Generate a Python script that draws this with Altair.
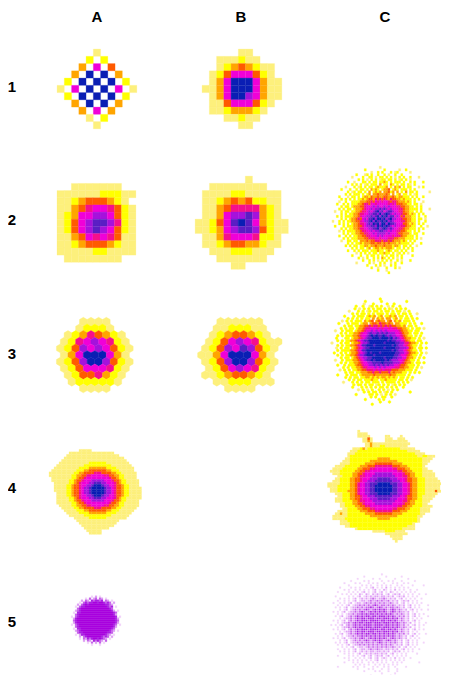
import altair as alt
import pandas as pd

LEVELS = list("123456789abcde")
COLOURS = ["#fdf07c", "#ffff00", "#ffa500", "#ff5a00", "#f5108c", "#f000d8", "#a512dc", "#5a1ec4", "#0a1eb4",
           "#f2d4fa", "#e0a0f5", "#c860ec", "#ab20e4", "#a800e0"]

A1 = [".....1.....", "....2.2....", "...3.6.4...", "..3.9.9.3..", ".2.9.9.9.2.", "1.6.9.9.6.1",
      ".2.9.9.9.2.", "..3.9.9.3..", "...3.6.3...", "....1.2....", ".....1....."]
B1 = [".....11....", "..111211...", "..12343211.", ".124666421.", ".1369996311", "11369996311",
      ".1369976311", ".114666421.", ".11233321..", "...11211...", ".....11...."]
A2 = ["..1111111..", "11111122211", "1123444321.", "11345665421", "12366776421", "12467887521",
      "12467876421", "11346565411", "11234443211", "11111221111", ".11111111.."]
B2 = [".......1.....", "..11111111...", ".11112211111.", ".11234342211.", ".11345555321.", ".11367787321.",
      "1124689863211", "1123678874211", ".11356665221.", ".11234433211.", "..111222111..", "...1111111...", ".....11......"]
A3 = ["...1111...", "...12221", ".12354321", ".125676521", "1247676421", ".136999631",
      "1247997421", ".124666521", ".12445321", "..1222221", "...1111"]
B3 = ["..111111", "..1122211", ".12344321", ".1246765211", "1247687421", "1136999631",
      "1247997421", ".124676521", "112344321", "..11222111", "...1111"]
C2 = [
"......................1.........................",
"...............2........2......1..2.............",
"..................1..2.2...2.12.....1...........",
"...........2...12.2..2..2.1..2..2...............",
".........1....2..22.1.22.2.2.1.2.2..2...1.......",
"............2.2.1.2.2.122.22.2.12.2.1...........",
".......2..1...22.2.22.2232.2.222.2..2.2...2.....",
".........2.2.2.12.222.3.22.32.2.22.21.2.........",
"......1...2.12.2.22.232223.2.323.2.22...1.2.....",
"....2...2..2.22.2.3232.2334.232.222.2.2.........",
".......2.12.22.2.3.2323.33423.3.2.3.22.2.....1..",
"......2.2.222.2.23.33433343.3.23.22.2.12........",
"...2...1.22.2.2332433433443343233222.2.2..2.....",
"....2.2.2.2.2232344354545435443323222.2.2.......",
"...1..2..2222333445465656654554333232.2...1.....",
"..2..2.2.2223345546656666656564443322.22.1......",
"....2.22.23334456667676676766655443322.2.2......",
"...2.2.22.233345667677878767666554332222.2...1..",
".1..2.22.22334556767897867887665543322.2.2......",
"....2.2.2233455667788797898767665443232.2.2.....",
"..2.2.222233456677878979897886764533322.2..2....",
"....2.2.2334546768897998978977665443322.22.1....",
"1..2.2.22334456778979889897876665543322.2..2....",
"...2.2.2.233455678798979979887666443232.2.2.....",
".2...2.22233445677887989898767665543322..2..1...",
"....2.2.2233455667788978987876655433222.2.2.....",
"...1.2.222233455667677887767665544322.2.2.......",
".....2.2.2233445566767777676665443332.22..2.....",
"...2..2.2.2233445566676766665655433222.2........",
".....2.2.22233344555665666555443332222.2.1......",
"....1..22.22.3334344555455454333232.2.2.........",
".......2.2.2232333443443434333232222.2...2......",
"......2.2.22.2233233433343332332.22.2..1........",
".........2.2.22.23.2332323332.22.2.2.2..........",
".......2..2.2.222.222322.232.22.2.2..2..........",
"...........1.2.2.2.22.22322.2.12.2.1............",
".........2...2..2.22.2.2.2.22.2.2....2..........",
"............2.1.2..2.2.32.2.2.1.2...............",
"..............2..2.2.1.2.2.2..2.1...2...........",
"...........1.....2.1..2.2..1.2..2...............",
"................2...2.2.1..2.2..................",
"..................2..1...2...2.1................",
".....................2...1......................",
"..........................2.....................",
]
C3 = [
".....................2......................",
"...............2......2..........2..........",
"..............1...2.....2..2................",
"...........2..2..12.2.2..1.2..2.............",
"..........2.1.2.2.2.22.2.21.2.2.2...........",
"........1...2.2.12.22.2.22.2.22.1.2.........",
".........2.2.22.2.2.222.2.22.2.22.2..1......",
"......2...2.222.2323.23.22323.22.2.2........",
".......2.2.2.2.22.3.323.33.23.2.22.2.2......",
".....1.2.2.222.3234.3433.34.323.222.2.......",
"...2...2.222.233.3443544343.33222.2.2..2....",
"......2.22.2233445455454545443323.22.2......",
"....2.2.22.23345566656566565544332.2.22.1...",
"..1..2.222.2334566767676766666543322.22.....",
"....2.2.223345667877878787776654332.22.2....",
"...2.2.22233456678989889878776654322.2.2....",
"..2...22.2334567889998999897876543322.2.1...",
"...2.2.223345678899999999898877654322.22....",
"1...2.22.23346778999999899998877554332.2.2..",
"...2.2.2233456889998999999989877654322.2....",
"..1.2.22.2345678899999989999887776432.22.2..",
"...2.222233456889999999999989877654322.2....",
".2..2.2.233456789899989999998877654332.2.1..",
"...2.2.2233457789998999999998876654322.2....",
"....2.22.2345677889999989998877664332.2.2...",
"..1..2.222334567889899998987776654322.2.....",
"....2.2.2233456677888898888777654332.22.2...",
"...2..2.22234456677878787877665443222.2.....",
".....2.2.223345566676767666655443322.2.1....",
"....1.2.2.22334455565656555444333222.2......",
"......2.22.2233344544544453433322.2.2.2.....",
"...2...2.222.23333343333334332222.2.........",
"......2.2.22.2233232323323232.22.2.2........",
"........2.2.22.222322.2232222.22.2.1........",
".....1...2.2.2.22.222.2.2222.2.2.2..........",
"..........2.22.2.22.12.2.2.12.2.2...........",
".........2...2.2.2.2.22.2.2.2..2............",
"............1.2.1.2..2.2.1.2.2..............",
"..............2.2.22.2.12.2.......2.........",
"...........2.....22.2.1.2.2.1...............",
".................2.2..22..2.................",
"...............2.....2.2....................",
".....................2...2..................",
"..................2.........................",
]
A4 = [
"............11111",
"........111111111111111111",
".......111111111111111111111",
"......111111111111111111111111",
".....11111111111111111111111111",
"....1111111111112222222111111111",
"...111111111112222222222211111111",
"..11111"+"1111122223333333222211111"+"11",
".111111"+"1111222334444444332221111"+"11",
"1111111"+"1112233444455544443322111"+"111",
"1111111"+"1122334455666665544332211"+"111",
".111111"+"1122344566666666654432211"+"111",
".111111"+"1223445666777776665443221"+"1111",
"..11111"+"1223456667788877666543221"+"1111",
"..11111"+"2234456677899987766544322"+"1111",
"..11111"+"2234456778999998776544322"+"11111",
"..11111"+"2234456778999998776544322"+"11111",
"...1111"+"2234456778999998776544322"+"11111",
"...1111"+"2234456677899987766544322"+"11111",
"...1111"+"1223456667788877666543221"+"11111",
"...1111"+"1223445666777776665443221"+"1111",
"...1111"+"1122344566666666654432211"+"1111",
"....111"+"1122334455666665544332211"+"1111",
".....11"+"1112233444455544443322111"+"111",
"......1"+"1111222334444444332221111"+"11",
"......."+"1111122223333333222211111"+"1",
"......."+".111111222222222221111111",
".........."+"111111222222211111111",
"...........11111111111111111",
"............111111111111111",
".............1111111111111",
"..............1111111111",
"...............111111",
"................11111",
]
C4 = [
".............1",
".............1111",
".............11111......11....1",
"...............1141.....111..111",
"...............1131.....111111111",
"................113111111111111111",
"................11311122111111111",
"...........1112312222222222222111111",
"..........1112222222222222222222211111",
".........1112222222222222222222222221111",
".........1222222222222222222222222222"+"1122111",
"........11222222222223333322222222222"+"221111",
".......111222222223333333333322222222"+"22111",
"......1111222222333344444443333222222"+"2211",
"....111122222233344455555554443332222"+"221",
"...1111222222334445566666665544433222"+"2211",
"..11112222223344556666666666655443322"+"221111",
"...1112222233445666677777776666544332"+"2211111",
".....11222233455666777777777666554332"+"2211111",
"....112222334456667778888877766654433"+"22211111",
"...1112222334456677788888887776654433"+"222111111",
".111112222334566778889999988877665433"+"2221111111",
".111122222334566778899999998877665433"+"222111111",
"..11122222334566778899999998877665433"+"222111111",
"..11122223334566778899999998877665433"+"2221111411",
"....111222334566778889999988877665433"+"22211111",
".....11222334456677788888887776654433"+"2211111",
"....111222334456667778888877766654433"+"221111",
"....111222233455666777777777666554332"+"22111",
"......1122233445666677777776666544332"+"2211",
"......1122223344556666666666655443322"+"221111",
".......112222334445566666665544433222"+"21111",
".....11112222233344455555554443332222"+"21111",
"....113112222222333344444443333222222"+"211",
"...1111112222222223333333333322222222"+"11",
"...1111122222222222223333322222222222"+"1",
"......1112222222222222222222222222222"+"1",
"......111122222222222222222222222221",
"........1122222222222222222222222111",
"............122222222222222222211111",
"...................1111122221111",
"........................111111111",
"..........................11111",
"...........................1111",
"............................1",
]
A5 = [
"..........a.b.a..........",
".......a.c.bc.cb.a.......",
".....b.cb.dcddcd.cb.a....",
"....a.cdcddeedeedcdc.b...",
"...b.cdedeeeeeeeeddcb....",
"..a.cddeeeeeeeeeeedcd.a..",
"...cdeeeeeeeeeeeeeedc....",
"..bcdeeeeeeeeeeeeeeedb.a.",
".a.ddeeeeeeeeeeeeeeeedc..",
"..cdeeeeeeeeeeeeeeeeedb..",
"a.cdeeeeeeeeeeeeeeeeeed.a",
".bdeeeeeeeeeeeeeeeeeeedb.",
".cdeeeeeeeeeeeeeeeeeeedc.",
".bdeeeeeeeeeeeeeeeeeeedb.",
"a.cdeeeeeeeeeeeeeeeeedc.a",
"..cdeeeeeeeeeeeeeeeeedb..",
".a.ddeeeeeeeeeeeeeeedc...",
"..bcdeeeeeeeeeeeeeedcb.a.",
"...cddeeeeeeeeeeeeddc....",
"..a.bddeeeeeeeeeedcb.a...",
"....b.cdeeeeeeedcdc.b....",
"....a.cbdcdeededcb.a.....",
"......b.cb.dcdcb.c.......",
"........a.c.b.c.a........",
"..........a...a..........",
]
C5 = [
".......................a........................",
"...............a.........a......a...............",
"............a......a..a......a.....a............",
".........a.....a.a.....a..a.a...a.....a.........",
"......a....a.a...a.a.a..a...a.a..a.a............",
"........a.....a.a.a..a.a.a.a..a.a....a....a.....",
"....a....a.a.a..a.ab.a.a.b.a.a.a.a.a............",
"......a.a..a.a.a.a.ab.a.ba.a.b.a.a..a..a........",
"...a....a.a.a.ab.a.ab.ab.a.ba.a.a.a.a.a.........",
".....a.a.a.a.ba.ba.babab.ab.abab.a.a.a..a..a....",
"..a.....a.a.ab.abababbabbabab.abab.a.a.a........",
"....a.a.a.ab.abababcbabbcbabab.ab.a.a.a..a......",
"...a..a.a.ab.abbabcbbcbcbbcabab.abab.a.a........",
".a..a.a.ab.abbabcbcbcbcbcbbcbab.ab.a.a.a.a......",
"...a.a.ab.abbcbcbcbcdcbccbcbcbabab.ab.a.a...a...",
"..a.a.ab.abbcbcbccdcbcdcbcbccbcbab.ab.a.a.......",
"....a.ab.abcbcbcdcbcdcdcdcbcdcbcbab.ab.a.a..a...",
".a.a.ab.abbcbcdcbcdcdcdcdcbcdcbcbbab.a.a........",
"...a.a.abbcbccdcdcddcdcdcdcdcbcbcbab.ab.a.a.....",
"..a.ab.abcbcdcdcddcddcdddcdcdcbcbcab.ab.a...a...",
"....a.abbcbcdcddcdddcddcdddcdcdbcbab.a.a.a......",
".a.a.ab.bcbcdcdddcddddcddcddcdcbcbab.ab.a.......",
"...a.abbcbcdcddcdddcdddcdddcdcdcbcbab.a.a..a....",
"a.a.ab.bcbcdcdcddddcddddcddcdcdcbcab.ab.a.a.....",
"...a.abbcbcdcddcdddcdddcdddcdcdcbcbab.a.a.......",
".a.a.ab.bcbcdcdddcddddcddcddcdcbcbab.ab.a.a.....",
"....a.abbcbcdcddcdddcddcdddcdcdbcbab.a.a........",
"..a.ab.abcbcdcdcddcddcdcdcdcdcbcbcab.ab.a..a....",
"...a.a.abbcbccdcdcdcdcdcdcdcdcbcbab.ab.a........",
".a.a.ab.abbcbcdcbcdcdcdcdcbcdcbcbab.a.a.a.......",
"....a.ab.abcbcbcdcbcdcdcbcdcbcbab.ab.a.a........",
"..a.a.ab.abbcbcbccbcbcdcbcbcbcbab.ab.a.a..a.....",
"...a.a.ab.abbcbcbcbcbcbcbcbcbabab.ab.a.a........",
".....a.a.ab.abbabcbcbcbcbcbbcbab.ab.a.a.........",
"...a..a.a.ab.abbabcbbcbbabbabab.ab.a.a..a.......",
"....a.a.a.ab.abababbabbabab.abab.a.a.a..........",
"......a.a.a.ab.abababbabab.ab.a.a.a....a........",
"...a....a.a.a.ab.ab.abab.ab.a.a.a.a.............",
"......a.a..a.a.a.ab.ab.aba.a.b.a.a..a...........",
"........a.a.a.a.a.a.ab.a.a.a.a.a.a..............",
"......a...a.a.a..a.a.a.a.a..a.a.a.......a.......",
"...........a.a.a.a..a.a.a.a.a.a.................",
"...a......a.a..a...a.a..a.a..a....a.............",
"............a....a.a...a..a...a.................",
"...............a....a.a...a...a.................",
".......................a.....a..................",
"..................a........a.....................",
]
COL_LABELS = ["A", "B", "C"]
ROW_LABELS = ["1", "2", "3", "4", "5"]

# panel: rows, first-cell x, first-cell y, step x, step y, drawn width, drawn height
SQUARE_PANELS = [
    (A1, 60.7, 52.7, 7.25, 7.25, 7.25, 7.25), (B1, 205.7, 52.7, 7.25, 7.25, 7.25, 7.25),
    (A2, 60.6, 187.0, 7.17, 7.17, 7.17, 7.17), (B2, 198.7, 179.7, 7.17, 7.17, 7.17, 7.17),
    (C2, 333.0, 167.4, 2.15, 2.45, 2.15, 2.45),
    (A4, 50.25, 450.6, 2.5, 2.5, 2.5, 2.5), (C4, 326.25, 431.25, 2.5, 2.5, 2.5, 2.5),
    (A5, 72.0, 596.7, 2.0, 2.0, 2.0, 2.0), (C5, 331.3, 574.4, 2.2, 2.2, 1.6, 1.6),
]
HEX_PANELS = [
    (A3, 60.3, 321.7, 7.67, 6.67, 78), (B3, 205.3, 321.7, 7.67, 6.67, 78),
    (C3, 332.0, 299.0, 2.3, 2.45, 9),
]
COL_X = [97, 241, 385]
COL_Y = 17
ROW_X = 12
ROW_Y = [87, 220, 354, 488, 622]

square = []
for rows, x0, y0, sx, sy, w, h in SQUARE_PANELS:
    for r, row in enumerate(rows):
        for c, ch in enumerate(row):
            if ch != ".":
                square.append({"x": x0 + c * sx - w / 2, "x2": x0 + c * sx + w / 2,
                               "y": y0 + r * sy - h / 2, "y2": y0 + r * sy + h / 2, "level": ch})
hexes = []
for rows, x0, y0, w, h, size in HEX_PANELS:
    for r, row in enumerate(rows):
        for c, ch in enumerate(row):
            if ch != ".":
                hexes.append({"x": x0 + c * w - (w / 2 if r % 2 else 0), "y": y0 + r * h,
                              "level": ch, "size": size})
labels = [{"x": x, "y": COL_Y, "t": t} for x, t in zip(COL_X, COL_LABELS)] + \
         [{"x": ROW_X, "y": y, "t": t} for y, t in zip(ROW_Y, ROW_LABELS)]

xs = alt.Scale(domain=[8, 441], nice=False, zero=False, padding=0)
ys = alt.Scale(domain=[675, 8], nice=False, zero=False, padding=0)
cs = alt.Scale(domain=LEVELS, range=COLOURS)

rect = alt.Chart(pd.DataFrame(square)).mark_rect(strokeWidth=0.25).encode(
    x=alt.X("x:Q", scale=xs, axis=None), x2="x2:Q",
    y=alt.Y("y:Q", scale=ys, axis=None), y2="y2:Q",
    color=alt.Color("level:N", scale=cs, legend=None),
    stroke=alt.Stroke("level:N", scale=cs, legend=None),
)
hexa = alt.Chart(pd.DataFrame(hexes)).mark_point(
    shape="M0,-1L0.866,-0.5L0.866,0.5L0,1L-0.866,0.5L-0.866,-0.5Z", filled=True, opacity=1, strokeWidth=0.4
).encode(
    x=alt.X("x:Q", scale=xs, axis=None),
    y=alt.Y("y:Q", scale=ys, axis=None),
    color=alt.Color("level:N", scale=cs, legend=None),
    stroke=alt.Stroke("level:N", scale=cs, legend=None),
    size=alt.Size("size:Q", scale=None, legend=None),
)
text = alt.Chart(pd.DataFrame(labels)).mark_text(
    font="Liberation Sans", fontWeight="bold", fontSize=15, color="black", align="center", baseline="middle"
).encode(
    x=alt.X("x:Q", scale=xs, axis=None),
    y=alt.Y("y:Q", scale=ys, axis=None),
    text="t:N",
)
chart = alt.layer(rect, hexa, text).properties(
    width=433, height=667, padding=0, background="white",
    autosize=alt.AutoSizeParams(type="none"),
).configure_view(stroke=None)
chart.save("out.html", embed_options={"renderer": "svg", "actions": False})
